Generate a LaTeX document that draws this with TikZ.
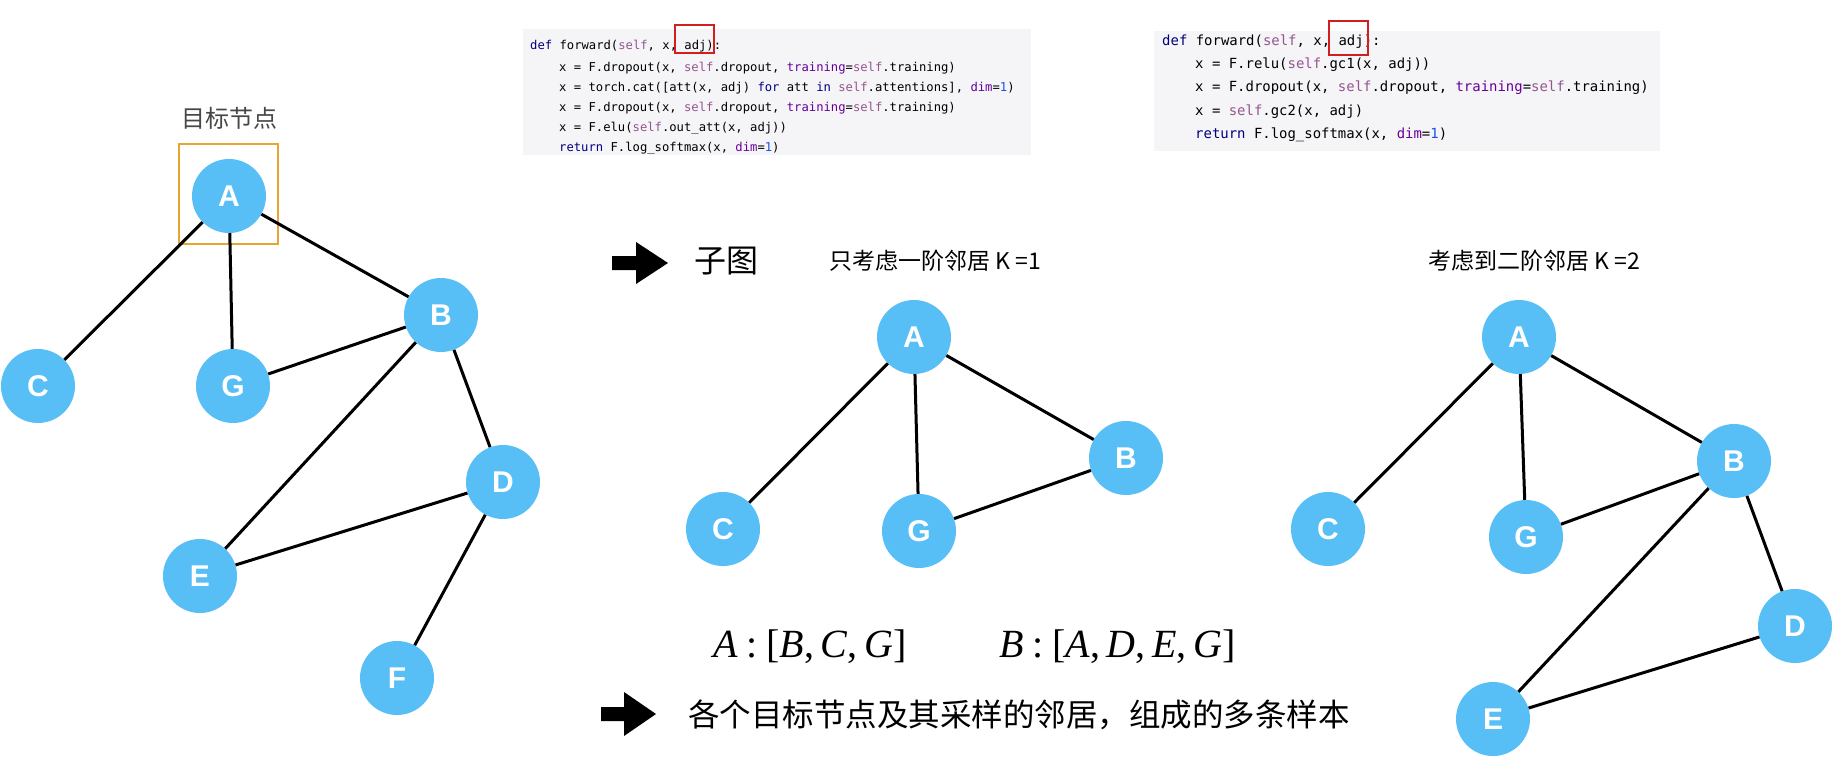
\documentclass[tikz,border=0pt]{standalone}
\usepackage{fontspec}
\newfontfamily\cjk{Noto Sans CJK SC}
\newfontfamily\codefont{DejaVu Sans Mono}
\newfontfamily\labfont{Liberation Sans}
\newfontfamily\timesf{Liberation Serif}
\definecolor{nodeblue}{RGB}{88,191,246}
\definecolor{kwblue}{RGB}{0,0,128}
\definecolor{selfpurple}{RGB}{148,85,141}
\definecolor{argpurple}{RGB}{102,0,153}
\definecolor{numblue}{RGB}{23,80,235}
\definecolor{codebg}{RGB}{245,245,248}
\definecolor{boxorange}{RGB}{232,165,50}
\definecolor{boxred}{RGB}{210,30,30}
\newcommand{\kwd}[1]{\textcolor{kwblue}{#1}}
\newcommand{\slf}[1]{\textcolor{selfpurple}{#1}}
\newcommand{\kwa}[1]{\textcolor{argpurple}{#1}}
\newcommand{\numc}[1]{\textcolor{numblue}{#1}}
\newcommand{\colsep}{\hspace{0.22em}:\hspace{0.22em}}
\begin{document}
\begin{tikzpicture}[x=1pt,y=-1pt,
  gnode/.style={circle,fill=nodeblue,minimum size=74pt,inner sep=0pt,text=white,font=\labfont\bfseries\fontsize{30}{30}\selectfont},
  edge/.style={line width=3pt,black},
  codeL/.style={anchor=base west,inner sep=0pt,font=\codefont\fontsize{12.2}{14}\selectfont},
  codeR/.style={anchor=base west,inner sep=0pt,font=\codefont\fontsize{13.95}{16}\selectfont},
  cjktext/.style={inner sep=0pt,font=\cjk\fontsize{23}{23}\selectfont},
  mathtext/.style={anchor=base west,inner sep=0pt,font=\timesf\fontsize{40}{40}\selectfont},
  blockarrow/.style={fill=black}
]
\useasboundingbox (0,0) rectangle (1843,760);
\fill[white] (0,0) rectangle (1843,760);

% code boxes
\fill[codebg] (523,29) rectangle (1031,155);
\fill[codebg] (1154,31) rectangle (1660,151);

\node[codeL] (l1) at (530,50) {\kwd{def} forward(\slf{self}, x, adj):};
\node[codeL] (l2) at (559,71) {x = F.dropout(x, \slf{self}.dropout, \kwa{training}=\slf{self}.training)};
\node[codeL] (l3) at (559,91) {x = torch.cat([att(x, adj) \kwd{for} att \kwd{in} \slf{self}.attentions], \kwa{dim}=\numc{1})};
\node[codeL] (l4) at (559,111) {x = F.dropout(x, \slf{self}.dropout, \kwa{training}=\slf{self}.training)};
\node[codeL] (l5) at (559,131) {x = F.elu(\slf{self}.out\_att(x, adj))};
\node[codeL] (l6) at (559,151) {\kwd{return} F.log\_softmax(x, \kwa{dim}=\numc{1})};

\node[codeR] (r1) at (1162,46) {\kwd{def} forward(\slf{self}, x, adj):};
\node[codeR] (r2) at (1195,69) {x = F.relu(\slf{self}.gc1(x, adj))};
\node[codeR] (r3) at (1195,92) {x = F.dropout(x, \slf{self}.dropout, \kwa{training}=\slf{self}.training)};
\node[codeR] (r4) at (1195,115) {x = \slf{self}.gc2(x, adj)};
\node[codeR] (r5) at (1195,138) {\kwd{return} F.log\_softmax(x, \kwa{dim}=\numc{1})};

\draw[boxred,line width=2.2pt] (675,25) rectangle (714,53);
\draw[boxred,line width=2.2pt] (1329,21) rectangle (1368,55);

% left graph
\node[inner sep=0pt,font=\cjk\fontsize{24}{24}\selectfont,text=black!72] (title) at (229,118) {目标节点};
\node[gnode] (A) at (229,196) {A};
\node[gnode] (B) at (441,315) {B};
\node[gnode] (C) at (38,386) {C};
\node[gnode] (G) at (233,386) {G};
\node[gnode] (D) at (503,482) {D};
\node[gnode] (E) at (200,576) {E};
\node[gnode] (F) at (397,678) {F};
\draw[boxorange,line width=2.4pt] (179,144) rectangle (278,244);
\draw[edge] (A) -- (C);
\draw[edge] (A) -- (G);
\draw[edge] (A) -- (B);
\draw[edge] (B) -- (G);
\draw[edge] (B) -- (E);
\draw[edge] (B) -- (D);
\draw[edge] (D) -- (E);
\draw[edge] (D) -- (F);

% arrow 1 and labels
\fill[blockarrow] (612,256) -- (636,256) -- (636,242) -- (668,263) -- (636,284) -- (636,270) -- (612,270) -- cycle;
\node[inner sep=0pt,font=\cjk\fontsize{32}{32}\selectfont] (zt) at (726,261) {子图};
\node[cjktext,anchor=west] (k1) at (829,261) {只考虑一阶邻居 K =1};
\node[cjktext,anchor=west] (k2) at (1428,261) {考虑到二阶邻居 K =2};

% middle graph
\node[gnode] (mA) at (914,337) {A};
\node[gnode] (mB) at (1126,458) {B};
\node[gnode] (mC) at (723,529) {C};
\node[gnode] (mG) at (919,531) {G};
\draw[edge] (mA) -- (mC);
\draw[edge] (mA) -- (mG);
\draw[edge] (mA) -- (mB);
\draw[edge] (mB) -- (mG);

% right graph
\node[gnode] (rA) at (1519,337) {A};
\node[gnode] (rB) at (1734,461) {B};
\node[gnode] (rC) at (1328,529) {C};
\node[gnode] (rG) at (1526,537) {G};
\node[gnode] (rD) at (1795,626) {D};
\node[gnode] (rE) at (1493,719) {E};
\draw[edge] (rA) -- (rC);
\draw[edge] (rA) -- (rG);
\draw[edge] (rA) -- (rB);
\draw[edge] (rB) -- (rG);
\draw[edge] (rB) -- (rE);
\draw[edge] (rB) -- (rD);
\draw[edge] (rD) -- (rE);

% formulas
\node[mathtext] (m1) at (713,657) {\textit{A}\colsep[\textit{B},\,\textit{C},\,\textit{G}]};
\node[mathtext] (m2) at (999,657) {\textit{B}\colsep[\textit{A},\,\textit{D},\,\textit{E},\,\textit{G}]};

% arrow 2 and bottom text
\fill[blockarrow] (601,707) -- (624,707) -- (624,692) -- (656,714) -- (624,736) -- (624,721) -- (601,721) -- cycle;
\node[anchor=west,inner sep=0pt,font=\cjk\fontsize{31.5}{32}\selectfont] (bt) at (688,715) {各个目标节点及其采样的邻居，组成的多条样本};
\end{tikzpicture}
\end{document}
